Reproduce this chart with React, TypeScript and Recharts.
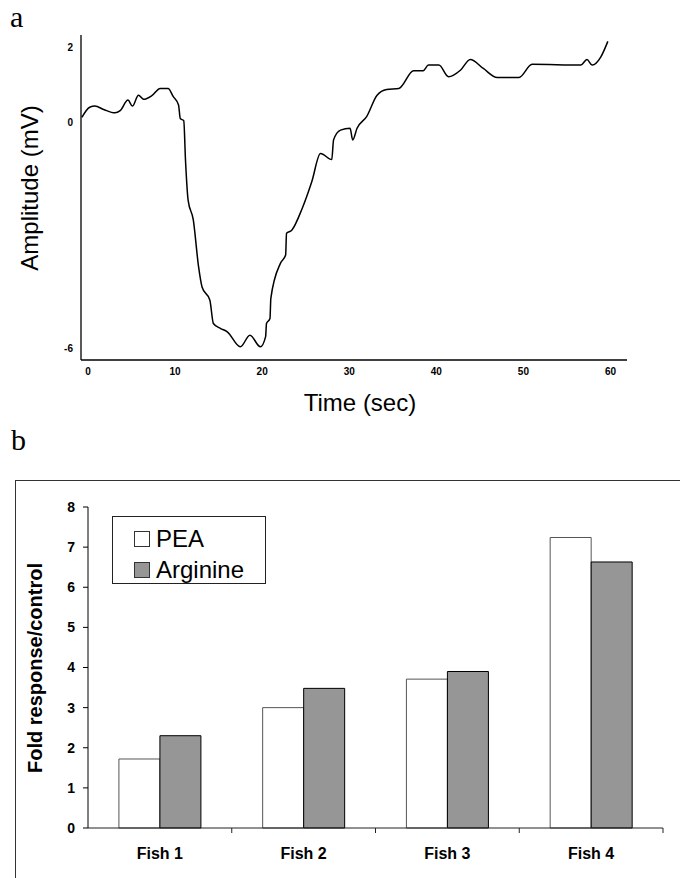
import React from 'react';
import { LineChart, Line, XAxis, YAxis, BarChart, Bar, Legend, Label } from 'recharts';

// panel a: electro-olfactogram trace
const timeSec = [
  0.1, 1.0, 1.6, 2.6, 3.9, 4.5, 5.4, 5.9, 6.6, 7.2, 8.1, 9.1, 10.0, 10.6, 11.2,
  11.4, 11.8, 12.0, 12.3, 12.9, 13.5, 13.9, 14.8, 15.2, 16.0, 16.8, 18.3, 19.4, 20.6, 21.2,
  21.3, 21.7, 21.8, 22.9, 23.5, 23.6, 24.2, 25.4, 26.5, 27.5, 28.8, 29.0, 29.8, 30.9, 31.2,
  31.7, 32.8, 34.0, 35.1, 36.5, 38.2, 39.3, 39.9, 41.1, 42.2, 43.6, 44.7, 46.2, 47.8, 50.3,
  51.8, 57.4, 58.1, 58.7, 59.7, 60.5,
];
const amplitudeMv = [
  0.13, 0.4, 0.43, 0.34, 0.25, 0.31, 0.59, 0.43, 0.72, 0.61, 0.7, 0.9, 0.9, 0.68, 0.46,
  0.1, 0.04, -1.01, -2.07, -2.6, -3.84, -4.38, -4.73, -5.35, -5.48, -5.57, -5.97, -5.66, -5.97, -5.7,
  -5.35, -5.22, -4.68, -3.75, -3.53, -2.95, -2.87, -2.29, -1.58, -0.83, -0.99, -0.47, -0.21, -0.16, -0.47,
  -0.16, 0.15, 0.72, 0.87, 0.9, 1.37, 1.37, 1.52, 1.52, 1.21, 1.39, 1.67, 1.43, 1.19, 1.19,
  1.54, 1.52, 1.67, 1.52, 1.74, 2.15,
];
const timeTicks = [0, 10, 20, 30, 40, 50, 60];
const amplitudeTicks = [2, 0, -6];

// panel b: fold response per fish
const fishNames = ['Fish 1', 'Fish 2', 'Fish 3', 'Fish 4'];
const peaValues = [1.72, 3.0, 3.71, 7.24];
const arginineValues = [2.3, 3.48, 3.9, 6.63];
const foldTicks = [0, 1, 2, 3, 4, 5, 6, 7, 8];

const traceData = timeSec.map((t, i) => ({ t, v: amplitudeMv[i] }));
const fishData = fishNames.map((name, i) => ({ name, pea: peaValues[i], arginine: arginineValues[i] }));

const SANS = '"Liberation Sans", Arial, sans-serif';
const SERIF = '"Liberation Serif", "Times New Roman", serif';

function FishTick(props: any) {
  const { x, y, payload } = props;
  const half = payload.offset || 72;
  return (
    <g>
      <line x1={x + half} x2={x + half} y1={y - 20} y2={y - 15} stroke="#222" strokeWidth={1} />
      <text x={x} y={y} dy="0.71em" textAnchor="middle" fontSize={16} fontWeight="bold" fill="#000" fontFamily={SANS}>
        {payload.value}
      </text>
    </g>
  );
}

function FishLegend() {
  const rows = [
    { label: 'PEA', fill: '#fff' },
    { label: 'Arginine', fill: '#969696' },
  ];
  return (
    <div
      style={{
        position: 'relative',
        width: 154,
        height: 68,
        boxSizing: 'border-box',
        border: '1px solid #222',
        background: '#fff',
        fontFamily: SANS,
      }}
    >
      {rows.map((r, i) => (
        <div key={r.label} style={{ position: 'absolute', left: 21, top: 8 + i * 31, height: 28, display: 'flex', alignItems: 'center' }}>
          <span style={{ width: 14, height: 14, border: '1px solid #333', background: r.fill, display: 'inline-block', marginRight: 6 }} />
          <span style={{ fontSize: 24, lineHeight: '28px', color: '#000' }}>{r.label}</span>
        </div>
      ))}
    </div>
  );
}

export default function App() {
  return (
    <div style={{ position: 'absolute', left: 0, top: 0, width: 680, height: 878, overflow: 'hidden', background: '#fff', fontFamily: SANS }}>
      <div style={{ position: 'absolute', left: 10, top: 0, fontFamily: SERIF, fontSize: 30, lineHeight: '34px' }}>a</div>
      <div style={{ position: 'absolute', left: 11, top: 423, fontFamily: SERIF, fontSize: 30, lineHeight: '34px' }}>b</div>

      <div style={{ position: 'absolute', left: 0, top: 0 }}>
        <LineChart width={680} height={430} data={traceData} margin={{ top: 35, right: 53, left: 41, bottom: 40 }}>
          <XAxis
            dataKey="t"
            type="number"
            domain={[0, 62.7]}
            ticks={timeTicks}
            interval={0}
            height={30}
            tickLine={false}
            axisLine={{ stroke: '#000', strokeWidth: 1.3 }}
            tick={{ fontSize: 10, fontWeight: 'bold', fill: '#000', fontFamily: SANS, dx: 7 }}
          >
            <Label
              content={() => (
                <text x={360} y={411} textAnchor="middle" fontSize={24} fill="#000" fontFamily={SANS}>
                  Time (sec)
                </text>
              )}
            />
          </XAxis>
          <YAxis
            type="number"
            domain={[-6.32, 2.32]}
            ticks={amplitudeTicks}
            interval={0}
            width={40}
            tickLine={false}
            axisLine={{ stroke: '#000', strokeWidth: 1.3 }}
            tick={{ fontSize: 10, fontWeight: 'bold', fill: '#000', fontFamily: SANS }}
          >
            <Label
              content={() => (
                <text x={38} y={188} transform="rotate(-90 38 188)" textAnchor="middle" fontSize={24} fill="#000" fontFamily={SANS}>
                  Amplitude (mV)
                </text>
              )}
            />
          </YAxis>
          <Line type="monotone" dataKey="v" stroke="#000" strokeWidth={1.5} dot={false} isAnimationActive={false} />
        </LineChart>
      </div>

      {/* frame around panel b */}
      <div style={{ position: 'absolute', left: 15, top: 480, width: 720, height: 440, border: '1.5px solid #333' }} />

      <div style={{ position: 'absolute', left: 0, top: 480 }}>
        <BarChart
          width={680}
          height={398}
          data={fishData}
          margin={{ top: 27, right: 17, left: 48, bottom: 20 }}
          barCategoryGap="21.5%"
          barGap={0}
        >
          <XAxis
            dataKey="name"
            height={30}
            interval={0}
            tickSize={5}
            tickMargin={15}
            tickLine={false}
            axisLine={{ stroke: '#222', strokeWidth: 1 }}
            tick={<FishTick />}
          />
          <YAxis
            type="number"
            domain={[0, 8]}
            ticks={foldTicks}
            interval={0}
            width={40}
            tickSize={5}
            tickMargin={8}
            axisLine={{ stroke: '#000', strokeWidth: 1 }}
            tickLine={{ stroke: '#000', strokeWidth: 1 }}
            tick={{ fontSize: 14, fontWeight: 'bold', fill: '#000', fontFamily: SANS }}
          >
            <Label
              content={() => (
                <text x={42} y={188} transform="rotate(-90 42 188)" textAnchor="middle" fontSize={20} fontWeight="bold" fill="#000" fontFamily={SANS}>
                  Fold response/control
                </text>
              )}
            />
          </YAxis>
          <Legend
            layout="horizontal"
            verticalAlign="middle"
            align="center"
            content={() => <FishLegend />}
            wrapperStyle={{ left: 112, top: 36, bottom: 'auto', width: 154, height: 68 }}
          />
          <Bar dataKey="pea" name="PEA" fill="#fff" stroke="#555" strokeWidth={1} isAnimationActive={false} />
          <Bar dataKey="arginine" name="Arginine" fill="#969696" stroke="#000" strokeWidth={1} isAnimationActive={false} />
        </BarChart>
      </div>
    </div>
  );
}
